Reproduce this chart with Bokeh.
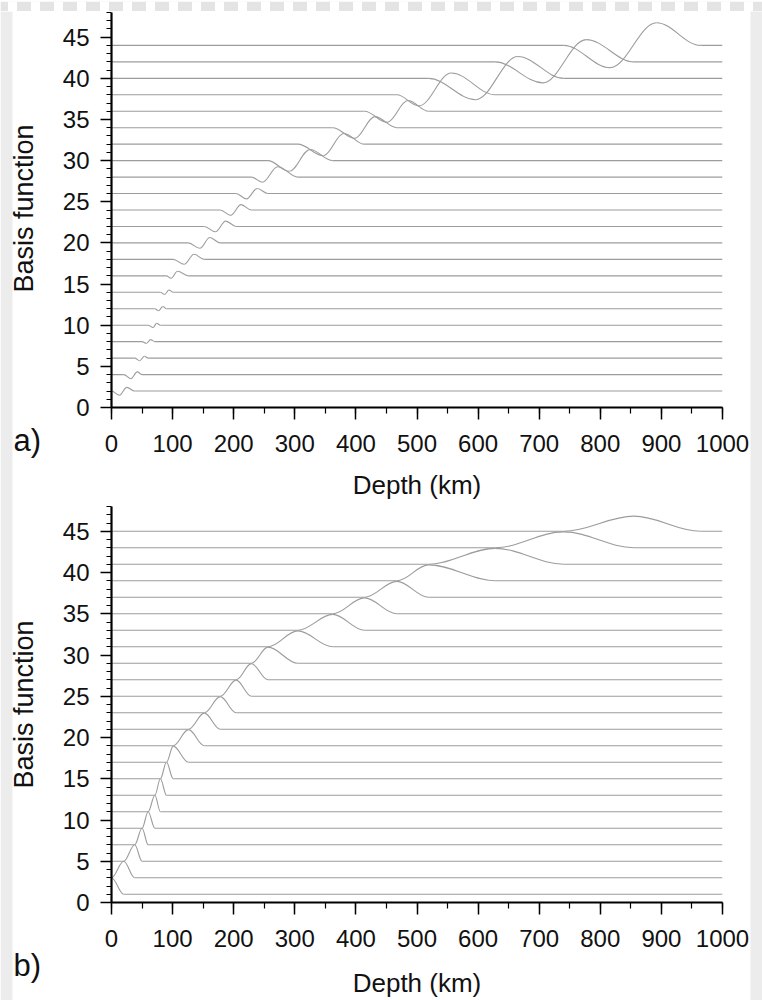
import math
from bokeh.plotting import figure
from bokeh.models import Range1d, FixedTicker, ColumnDataSource
from bokeh.layouts import column, row
from bokeh.core.properties import value
from bokeh.embed import file_html
from bokeh.resources import INLINE

# ---------------- data ----------------
depth_nodes = [0, 20, 38, 50, 60, 71, 80, 90, 101, 126, 152, 178, 204, 229,
               256, 305, 362, 414, 467, 519, 628, 740, 855, 964]

baselines_a = [2, 4, 6, 8, 10, 12, 14, 16, 18, 20, 22, 24, 26, 28, 30, 32,
               34, 36, 38, 40, 42, 44]
trough_depth_a = [13, 32, 46, 57, 68, 77, 87, 97.5, 119, 144.5, 170, 195, 221,
                  247, 291, 347, 398, 451, 503, 596, 706, 816]
trough_amp_a = [-0.5, -0.5, -0.32, -0.22, -0.28, -0.25, -0.26, -0.3, -0.6,
                -0.65, -0.65, -0.65, -0.65, -0.62, -1.3, -1.4, -1.3, -1.35,
                -1.35, -2.6, -2.55, -2.7]
peak_depth_a = [25, 42, 54, 64, 74, 84, 94, 108, 135, 161, 187, 212, 238.5,
                272, 325, 380, 431, 485, 556, 665, 777, 892]
peak_amp_a = [0.45, 0.33, 0.22, 0.25, 0.24, 0.27, 0.27, 0.55, 0.62, 0.65,
              0.65, 0.65, 0.62, 1.25, 1.35, 1.3, 1.35, 1.3, 2.65, 2.65, 2.7,
              2.75]

baselines_b = [1, 3, 5, 7, 9, 11, 13, 15, 17, 19, 21, 23, 25, 27, 29, 31, 33,
               35, 37, 39, 41, 43, 45]
peak_amp_b = [2.0, 2.0, 2.0, 2.0, 2.0, 2.0, 2.0, 2.0, 1.95, 1.95, 1.95, 1.95,
              1.95, 1.95, 1.95, 1.92, 1.92, 1.92, 1.92, 1.92, 1.92, 1.92, 1.83]

x_ticks = [0, 100, 200, 300, 400, 500, 600, 700, 800, 900, 1000]
y_ticks = [0, 5, 10, 15, 20, 25, 30, 35, 40, 45]

DEPTH_MAX = 1000
LINE_COLOR = "#9c9c9c"
FONT = "Liberation Sans"
PAGE_GRAY = "#ececec"


def bez(store, xa, ya, xb, yb, c=0.36):
    store["x0"].append(xa); store["y0"].append(ya)
    store["x1"].append(xb); store["y1"].append(yb)
    store["cx0"].append(xa + c * (xb - xa)); store["cy0"].append(ya)
    store["cx1"].append(xb - c * (xb - xa)); store["cy1"].append(yb)


def seg(store, xa, xb, y):
    store["x0"].append(xa); store["x1"].append(xb)
    store["y0"].append(y); store["y1"].append(y)


def new_store(keys):
    return {k: [] for k in keys}


def bare_fig(width, height, bg, x_range=(0, 1), y_range=(0, 1)):
    p = figure(width=width, height=height, output_backend="svg",
               toolbar_location=None, x_range=Range1d(*x_range),
               y_range=Range1d(*y_range), min_border=0,
               min_border_left=0, min_border_right=0, min_border_top=0,
               min_border_bottom=0, x_axis_type=None, y_axis_type=None)
    p.grid.visible = False
    p.outline_line_color = None
    p.background_fill_color = bg
    p.border_fill_color = bg
    return p


def make_fig(height, top, bottom, tick_standoff, label_standoff):
    p = figure(width=700, height=height,
               x_range=Range1d(0, DEPTH_MAX), y_range=Range1d(0, 48),
               output_backend="svg", toolbar_location=None,
               min_border_left=61, min_border_right=28,
               min_border_top=top, min_border_bottom=bottom)
    p.xgrid.visible = False
    p.ygrid.visible = False
    p.outline_line_color = None
    p.background_fill_color = "white"
    p.border_fill_color = "white"

    p.xaxis.ticker = FixedTicker(ticks=x_ticks,
                                 minor_ticks=list(range(0, 1001, 50)))
    p.yaxis.ticker = FixedTicker(ticks=y_ticks, minor_ticks=list(range(0, 49)))
    for ax in (p.xaxis, p.yaxis):
        ax.axis_line_width = 2.2
        ax.axis_line_color = "black"
        ax.major_tick_line_color = "black"
        ax.minor_tick_line_color = "black"
        ax.major_tick_line_width = 1.5
        ax.minor_tick_line_width = 1.2
        ax.major_tick_in = 0
        ax.minor_tick_in = 0
        ax.major_label_text_font = FONT
        ax.major_label_text_font_size = "24px"
        ax.major_label_text_color = "#111111"
    p.xaxis.major_tick_out = 12
    p.xaxis.minor_tick_out = 6
    p.yaxis.major_tick_out = 11
    p.yaxis.minor_tick_out = 5
    p.xaxis.major_label_standoff = tick_standoff
    p.yaxis.major_label_standoff = 11
    p.xaxis.axis_label = "Depth (km)"
    p.xaxis.axis_label_standoff = label_standoff
    p.xaxis.axis_label_text_font = FONT
    p.xaxis.axis_label_text_font_size = "26px"
    p.xaxis.axis_label_text_font_style = "normal"
    p.xaxis.axis_label_text_color = "#111111"
    return p


# ---------------- panel a ----------------
pa = make_fig(492, 1, 96, 15, 15)
flat_a = new_store(["x0", "y0", "x1", "y1"])
curve_a = new_store(["x0", "y0", "x1", "y1", "cx0", "cy0", "cx1", "cy1"])
for k in range(len(baselines_a)):
    b = baselines_a[k]
    start = depth_nodes[k]
    end = depth_nodes[k + 2]
    if start > 0:
        seg(flat_a, 0, start, b)
    seg(flat_a, end, DEPTH_MAX, b)
    tx, ty = trough_depth_a[k], b + trough_amp_a[k]
    px, py = peak_depth_a[k], b + peak_amp_a[k]
    bez(curve_a, start, b, tx, ty)
    bez(curve_a, tx, ty, px, py)
    bez(curve_a, px, py, end, b)

pa.segment(x0="x0", y0="y0", x1="x1", y1="y1",
           source=ColumnDataSource(flat_a), line_color=LINE_COLOR,
           line_width=1.1)
pa.bezier(x0="x0", y0="y0", x1="x1", y1="y1", cx0="cx0", cy0="cy0",
          cx1="cx1", cy1="cy1", source=ColumnDataSource(curve_a),
          line_color=LINE_COLOR, line_width=1.1)

# ---------------- panel b ----------------
pb = make_fig(497, 3, 98, 15, 18)
flat_b = new_store(["x0", "y0", "x1", "y1"])
curve_b = new_store(["x0", "y0", "x1", "y1", "cx0", "cy0", "cx1", "cy1"])
for j in range(len(baselines_b)):
    b = baselines_b[j]
    pk = depth_nodes[j]
    top = b + peak_amp_b[j]
    if j > 0:
        left = depth_nodes[j - 1]
        if left > 0:
            seg(flat_b, 0, left, b)
        bez(curve_b, left, b, pk, top)
    right = depth_nodes[j + 1]
    bez(curve_b, pk, top, right, b)
    seg(flat_b, right, DEPTH_MAX, b)

pb.segment(x0="x0", y0="y0", x1="x1", y1="y1",
           source=ColumnDataSource(flat_b), line_color=LINE_COLOR,
           line_width=1.1)
pb.bezier(x0="x0", y0="y0", x1="x1", y1="y1", cx0="cx0", cy0="cy0",
          cx1="cx1", cy1="cy1", source=ColumnDataSource(curve_b),
          line_color=LINE_COLOR, line_width=1.1)

# ---------------- side column with the y titles and panel letters ----------------
# coordinates of this strip are page pixels (x to the right, y downwards)
side = bare_fig(50, 989, "white", x_range=(0, 50), y_range=(1000, 11))
side.quad(left=0, right=12, bottom=1000, top=11, fill_color=PAGE_GRAY,
          line_color=None)
side.text(x=[23, 23], y=[208, 704], text=["Basis function", "Basis function"],
          angle=math.pi / 2, text_align="center", text_baseline="middle",
          text_font=value(FONT), text_font_size=value("27px"),
          text_color="#111111")
side.text(x=[13, 13], y=[440, 965], text=["a)", "b)"],
          text_align="left", text_baseline="middle",
          text_font=value(FONT), text_font_size=value("31px"),
          text_color="#111111")

# ---------------- page decoration (grey margins of the source page) ----------------
top_strip = bare_fig(762, 11, "white")
top_strip.quad(left=0, right=1, bottom=0, top=1, fill_color="#e4e4e4",
               line_color=None, hatch_pattern="vertical_line",
               hatch_color="white", hatch_scale=23, hatch_weight=9)
right_strip = bare_fig(12, 989, PAGE_GRAY)

layout = column(top_strip,
                row(side, column(pa, pb, spacing=0), right_strip, spacing=0),
                spacing=0)
open("out.html", "w").write(file_html(layout, INLINE))
